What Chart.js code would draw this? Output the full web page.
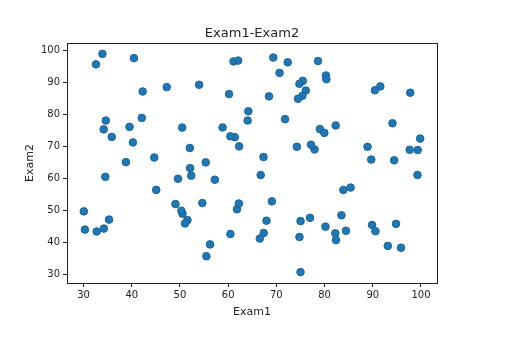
<!DOCTYPE html>
<html>
<head>
<meta charset="utf-8">
<script src="https://cdn.jsdelivr.net/npm/chart.js@4"></script>
<style>
  html, body { margin: 0; padding: 0; background: #fff; }
  #wrap { width: 521px; height: 339px; }
</style>
</head>
<body>
<div id="wrap"><canvas id="chart" width="521" height="339"></canvas></div>
<script>
const exam1 = [
  34.62, 30.29, 35.85, 60.18, 79.03, 45.08, 61.11, 75.02, 76.10, 84.43,
  95.86, 75.01, 82.31, 69.36, 39.54, 53.97, 69.07, 67.95, 70.66, 76.98,
  67.37, 89.68, 50.53, 34.21, 77.92, 62.27, 80.19, 93.11, 61.83, 38.79,
  61.38, 85.40, 52.11, 52.05, 40.24, 54.64, 33.92, 64.18, 74.79, 34.18,
  83.90, 51.55, 94.44, 82.37, 51.05, 62.22, 77.19, 97.77, 62.07, 91.56,
  79.94, 99.27, 90.55, 34.52, 50.29, 49.59, 97.65, 32.58, 74.25, 71.80,
  75.40, 35.29, 56.25, 30.06, 44.67, 66.56, 40.46, 49.07, 80.28, 66.75,
  32.72, 64.04, 72.35, 60.46, 58.84, 99.83, 47.26, 50.46, 60.46, 82.23,
  88.91, 94.83, 67.32, 57.24, 80.37, 68.47, 42.08, 75.48, 78.64, 52.35,
  94.09, 90.45, 55.48, 74.49, 89.85, 83.49, 42.26, 99.32, 55.34, 74.78
];
const exam2 = [
  78.02, 43.89, 72.90, 86.31, 75.34, 56.32, 96.51, 46.55, 87.42, 43.53,
  38.23, 30.60, 76.48, 97.72, 76.04, 89.21, 52.74, 46.68, 92.93, 47.58,
  42.84, 65.80, 48.86, 44.21, 68.97, 69.95, 44.82, 38.80, 50.26, 65.00,
  72.81, 57.05, 63.13, 69.43, 71.17, 52.21, 98.87, 80.91, 41.57, 75.24,
  56.31, 46.86, 65.57, 40.62, 45.82, 52.06, 70.46, 86.73, 96.77, 88.70,
  74.16, 61.00, 43.39, 60.40, 49.80, 59.81, 68.86, 95.60, 69.82, 78.45,
  85.76, 47.02, 39.26, 49.59, 66.45, 41.09, 97.54, 51.88, 92.12, 60.99,
  43.31, 78.03, 96.23, 73.09, 75.86, 72.37, 88.48, 75.81, 42.51, 42.72,
  69.80, 45.69, 66.59, 59.51, 90.96, 85.59, 78.84, 90.42, 96.65, 60.77,
  77.16, 87.51, 35.57, 84.85, 45.36, 48.38, 87.10, 68.78, 64.93, 89.53
];
const xTicks = [30, 40, 50, 60, 70, 80, 90, 100];
const yTicks = [30, 40, 50, 60, 70, 80, 90, 100];
const titleText = "Exam1-Exam2";
const xLabel = "Exam1";
const yLabel = "Exam2";

const FONT = "DejaVu Sans, sans-serif";

// box around the axes + titles, matplotlib style
const frameAndLabels = {
  id: "frameAndLabels",
  afterDraw(chart) {
    const { ctx, chartArea: a } = chart;
    ctx.save();
    ctx.strokeStyle = "#222";
    ctx.lineWidth = 1;
    ctx.strokeRect(Math.round(a.left) + 0.5, Math.round(a.top) + 0.5,
                   Math.round(a.right - a.left), Math.round(a.bottom - a.top));
    ctx.fillStyle = "#222";
    ctx.textAlign = "center";
    ctx.textBaseline = "middle";
    const cx = (a.left + a.right) / 2;
    ctx.font = "13px " + FONT;
    ctx.fillText(titleText, cx, a.top - 9);
    ctx.font = "11px " + FONT;
    ctx.fillText(xLabel, cx, a.bottom + 29);
    ctx.translate(30, (a.top + a.bottom) / 2);
    ctx.rotate(-Math.PI / 2);
    ctx.fillText(yLabel, 0, 0);
    ctx.restore();
  }
};

const points = exam1.map((x, i) => ({ x, y: exam2[i] }));

new Chart(document.getElementById("chart"), {
  type: "scatter",
  data: {
    datasets: [{
      data: points,
      pointRadius: 3.8,
      pointBackgroundColor: "#1f77b4",
      pointBorderColor: "#1a639a",
      pointBorderWidth: 1
    }]
  },
  options: {
    responsive: false,
    animation: false,
    layout: { padding: { left: 0, right: 84, top: 43, bottom: 0 } },
    plugins: { legend: { display: false }, tooltip: { enabled: false } },
    scales: {
      x: {
        min: 26.57, max: 103.32,
        afterBuildTicks: (s) => { s.ticks = xTicks.map(v => ({ value: v })); },
        afterFit: (s) => { s.height = 56; },
        grid: { display: true, drawOnChartArea: false, drawTicks: true, tickLength: 4, color: "#222" },
        border: { display: false },
        ticks: { color: "#222", font: { family: FONT, size: 10 }, padding: 2, maxRotation: 0 }
      },
      y: {
        min: 27.19, max: 102.28,
        afterBuildTicks: (s) => { s.ticks = yTicks.map(v => ({ value: v })); },
        afterFit: (s) => { s.width = 67; },
        grid: { display: true, drawOnChartArea: false, drawTicks: true, tickLength: 4, color: "#222" },
        border: { display: false },
        ticks: { color: "#222", font: { family: FONT, size: 10 }, padding: 3 }
      }
    }
  },
  plugins: [frameAndLabels]
});
</script>
</body>
</html>
